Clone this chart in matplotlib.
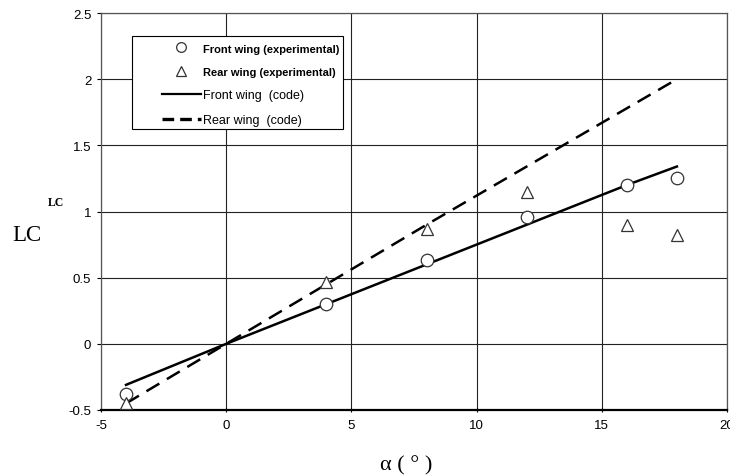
import matplotlib.pyplot as plt
from matplotlib.lines import Line2D
from matplotlib.patches import Rectangle

# angle of attack (deg)
alpha_exp = [-4, 4, 8, 12, 16, 18]
front_exp = [-0.38, 0.30, 0.63, 0.96, 1.20, 1.25]
rear_exp = [-0.45, 0.47, 0.87, 1.15, 0.90, 0.82]

alpha_code = [-4, 0, 4, 8, 12, 16, 18]
front_code = [-0.31, 0.0, 0.30, 0.60, 0.90, 1.20, 1.34]
rear_code = [-0.45, 0.0, 0.45, 0.90, 1.34, 1.78, 2.00]

W, H = 730, 477
fig = plt.figure(figsize=(W / 100, H / 100), dpi=100)
ax = fig.add_axes([101 / W, 1 - 411 / H, 626 / W, 397 / H])

ax.plot(alpha_code, front_code, color='black', lw=1.8, zorder=3)
ax.plot(alpha_code, rear_code, color='black', lw=1.8, ls=(0, (6, 3.5)), zorder=3)
ax.plot(alpha_exp, front_exp, 'o', ms=9, mfc='white', mec='#333333', mew=0.9, zorder=4)
ax.plot(alpha_exp, rear_exp, '^', ms=9, mfc='white', mec='#333333', mew=0.9, zorder=4)

ax.set_xlim(-5, 20)
ax.set_ylim(-0.5, 2.5)
ax.set_xticks([-5, 0, 5, 10, 15, 20])
ax.set_xticklabels(['-5', '0', '5', '10', '15', '20'])
ax.set_yticks([-0.5, 0, 0.5, 1, 1.5, 2, 2.5])
ax.set_yticklabels(['-0.5', '0', '0.5', '1', '1.5', '2', '2.5'])
ax.grid(True, color='#222222', lw=0.8)
ax.set_axisbelow(True)
for side in ['top', 'right', 'left']:
    ax.spines[side].set_color('#555555')
    ax.spines[side].set_linewidth(0.9)
ax.spines['bottom'].set_linewidth(1.6)
ax.tick_params(axis='x', labelsize=9.5, length=3, width=0.8, pad=5, direction='inout')
ax.tick_params(axis='y', labelsize=9.5, length=3, width=0.8, pad=4)
for lab in ax.get_xticklabels() + ax.get_yticklabels():
    lab.set_family('Liberation Sans')

# legend box
fig.add_artist(Rectangle((132 / W, 1 - 130 / H), 211 / W, 93 / H, transform=fig.transFigure,
                         facecolor='white', edgecolor='black', lw=0.8, zorder=4))
handles = [
    Line2D([], [], ls='none', marker='o', ms=7, mfc='white', mec='#333333', mew=0.9),
    Line2D([], [], ls='none', marker='^', ms=7, mfc='white', mec='#333333', mew=0.9),
    Line2D([], [], color='black', lw=1.6),
    Line2D([], [], color='black', lw=2.4, ls=(0, (3.5, 1.8))),
]
labels = ['Front wing (experimental)', 'Rear wing (experimental)',
          'Front wing  (code)', 'Rear wing  (code)']
leg = fig.legend(handles, labels, loc='upper left', bbox_to_anchor=(162 / W, 1 - 44 / H),
                 frameon=False, handlelength=3.1, handletextpad=0.15, labelspacing=1.0,
                 borderpad=0, borderaxespad=0,
                 prop={'family': 'Liberation Sans', 'size': 9})
leg.set_zorder(5)
for i, t in enumerate(leg.get_texts()):
    if i < 2:
        t.set_fontweight('bold')
        t.set_fontsize(8)

fig.text(27 / W, 1 - 236 / H, 'LC', family='Liberation Serif', fontsize=16.5,
         ha='center', va='center')
fig.text(56 / W, 1 - 203 / H, 'LC', family='Liberation Serif', fontsize=8.5,
         fontweight='bold', ha='center', va='center')
fig.text(406 / W, 1 - 466 / H, 'α ( ° )', family='Liberation Serif', fontsize=16,
         ha='center', va='center')

fig.savefig('out.png', dpi=100)
